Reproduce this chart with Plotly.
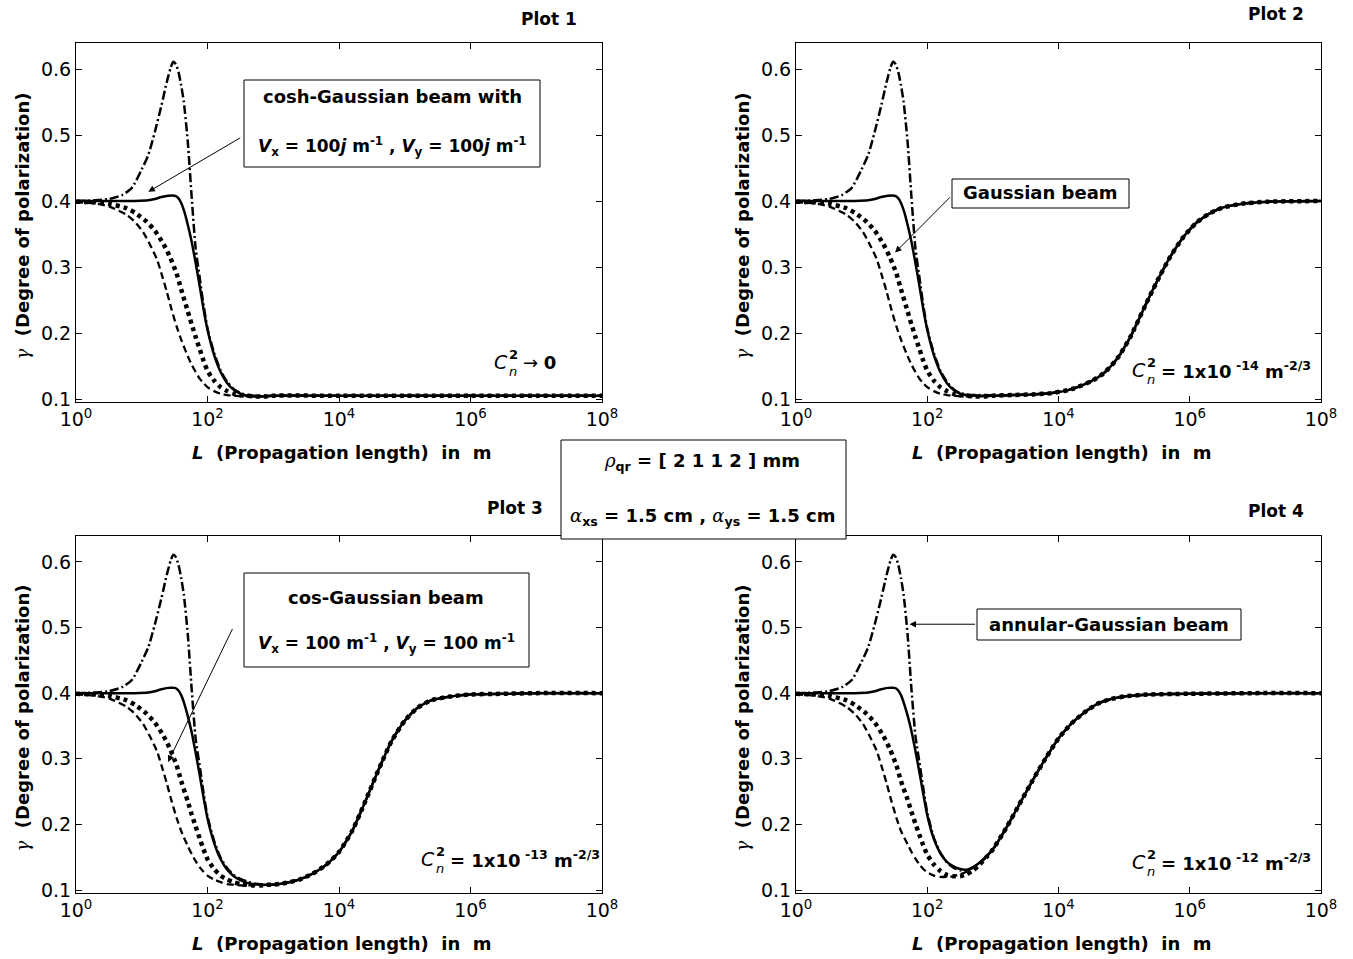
import plotly.graph_objects as go

# ---------------- data: x = log10(L in m), y = gamma (degree of polarization) ----------------
# early part (identical for all four panels)
DD_X_EARLY = [0, 0.3, 0.5, 0.7, 0.85, 1.0, 1.1, 1.2, 1.3, 1.38, 1.44, 1.48, 1.52, 1.56, 1.6, 1.64]
DD_Y_EARLY = [0.400, 0.401, 0.403, 0.409, 0.420, 0.448, 0.470, 0.505, 0.545, 0.580, 0.602, 0.611, 0.607, 0.595, 0.575, 0.550]
S_X_EARLY = [0, 0.5, 0.9, 1.1, 1.2, 1.3, 1.4, 1.5, 1.55, 1.6, 1.65]
S_Y_EARLY = [0.400, 0.400, 0.400, 0.401, 0.403, 0.406, 0.408, 0.408, 0.405, 0.397, 0.383]
D_X_EARLY = [0, 0.3, 0.5, 0.77, 0.9, 1.07, 1.2, 1.33, 1.43, 1.53, 1.6]
D_Y_EARLY = [0.399, 0.398, 0.396, 0.389, 0.382, 0.369, 0.355, 0.335, 0.315, 0.290, 0.266]
DA_X_EARLY = [0, 0.3, 0.5, 0.77, 0.9, 1.02, 1.12, 1.23, 1.3, 1.38, 1.45, 1.53, 1.6]
DA_Y_EARLY = [0.398, 0.396, 0.392, 0.379, 0.368, 0.353, 0.335, 0.312, 0.290, 0.263, 0.237, 0.210, 0.190]

# middle part (per panel)
MID_X = [1.7, 1.76, 1.82, 1.88, 1.94, 2.0, 2.1, 2.2, 2.3, 2.4, 2.5, 2.6, 2.7, 2.8, 2.9]
P1_MID_DD = [0.490, 0.405, 0.328, 0.285, 0.242, 0.207, 0.170, 0.143, 0.126, 0.115, 0.109, 0.106, 0.105, 0.105, 0.105]
P1_MID_S = [0.364, 0.338, 0.306, 0.272, 0.236, 0.205, 0.167, 0.141, 0.124, 0.114, 0.108, 0.105, 0.104, 0.104, 0.104]
P1_MID_D = [0.233, 0.213, 0.194, 0.176, 0.158, 0.143, 0.128, 0.118, 0.112, 0.108, 0.106, 0.105, 0.104, 0.104, 0.104]
P1_MID_DA = [0.165, 0.152, 0.141, 0.131, 0.124, 0.118, 0.112, 0.108, 0.106, 0.105, 0.104, 0.104, 0.104, 0.104, 0.104]

P2_MID_DD = [0.490, 0.405, 0.328, 0.285, 0.242, 0.207, 0.170, 0.143, 0.126, 0.115, 0.109, 0.107, 0.106, 0.106, 0.106]
P2_MID_S = [0.364, 0.338, 0.306, 0.272, 0.236, 0.205, 0.167, 0.141, 0.124, 0.114, 0.108, 0.106, 0.105, 0.105, 0.105]
P2_MID_D = [0.233, 0.213, 0.194, 0.176, 0.158, 0.143, 0.128, 0.118, 0.112, 0.108, 0.106, 0.105, 0.104, 0.104, 0.104]
P2_MID_DA = [0.165, 0.152, 0.141, 0.131, 0.124, 0.118, 0.112, 0.108, 0.106, 0.105, 0.104, 0.104, 0.104, 0.104, 0.104]

P3_MID_DD = [0.490, 0.405, 0.330, 0.290, 0.248, 0.212, 0.175, 0.149, 0.133, 0.123, 0.117, 0.113, 0.110, 0.109, 0.108]
P3_MID_S = [0.365, 0.340, 0.309, 0.276, 0.241, 0.209, 0.172, 0.147, 0.131, 0.121, 0.115, 0.111, 0.109, 0.108, 0.108]
P3_MID_D = [0.235, 0.215, 0.197, 0.179, 0.162, 0.147, 0.132, 0.122, 0.116, 0.112, 0.109, 0.108, 0.107, 0.107, 0.108]
P3_MID_DA = [0.167, 0.155, 0.144, 0.135, 0.128, 0.122, 0.116, 0.112, 0.109, 0.108, 0.107, 0.107, 0.107, 0.107, 0.108]

P4_MID_DD = [0.490, 0.405, 0.335, 0.295, 0.255, 0.218, 0.180, 0.157, 0.142, 0.134, 0.130, 0.130, 0.135, 0.142, 0.151]
P4_MID_S = [0.366, 0.342, 0.312, 0.280, 0.246, 0.214, 0.178, 0.156, 0.143, 0.136, 0.132, 0.131, 0.135, 0.142, 0.151]
P4_MID_D = [0.238, 0.219, 0.201, 0.184, 0.168, 0.154, 0.139, 0.129, 0.123, 0.121, 0.121, 0.124, 0.130, 0.139, 0.150]
P4_MID_DA = [0.170, 0.158, 0.148, 0.139, 0.132, 0.127, 0.122, 0.120, 0.120, 0.121, 0.124, 0.128, 0.134, 0.141, 0.150]

# tails (curves coincide)
TAIL1_X = [3.0, 4.0, 5.0, 6.0, 7.0, 8.0]
TAIL1_Y = [0.105, 0.105, 0.105, 0.105, 0.105, 0.105]
TAIL2_X = [3.0, 3.3, 3.6, 3.9, 4.2, 4.5, 4.7, 4.9, 5.1, 5.3, 5.5, 5.7, 5.9, 6.1, 6.3, 6.5, 6.8, 7.2, 8.0]
TAIL2_Y = [0.105, 0.106, 0.107, 0.109, 0.115, 0.127, 0.140, 0.162, 0.195, 0.237, 0.278, 0.315, 0.345, 0.367, 0.381, 0.390, 0.396, 0.399, 0.400]
TAIL3_X = [3.0, 3.2, 3.4, 3.6, 3.8, 4.0, 4.2, 4.4, 4.6, 4.8, 5.0, 5.2, 5.4, 5.7, 6.0, 6.5, 7.0, 8.0]
TAIL3_Y = [0.108, 0.111, 0.116, 0.125, 0.138, 0.158, 0.190, 0.235, 0.283, 0.327, 0.358, 0.378, 0.389, 0.395, 0.398, 0.399, 0.400, 0.400]
TAIL4_X = [3.0, 3.2, 3.4, 3.6, 3.8, 4.0, 4.2, 4.4, 4.6, 4.8, 5.0, 5.4, 6.0, 7.0, 8.0]
TAIL4_Y = [0.162, 0.194, 0.230, 0.266, 0.300, 0.331, 0.354, 0.371, 0.384, 0.391, 0.395, 0.398, 0.399, 0.400, 0.400]

X_TICKS = [1, 1e2, 1e4, 1e6, 1e8]
X_TICKTEXT = ["10<sup>0</sup>", "10<sup>2</sup>", "10<sup>4</sup>", "10<sup>6</sup>", "10<sup>8</sup>"]
Y_TICKS = [0.1, 0.2, 0.3, 0.4, 0.5, 0.6]
Y_TICKTEXT = ["0.1", "0.2", "0.3", "0.4", "0.5", "0.6"]

# ---------------- figure ----------------
W, H = 1353, 959
FONT = "DejaVu Sans"
SERIF_IT = "font-family:'DejaVu Serif';font-style:italic;font-weight:normal"


def px(x):
    return x / W


def py(y):
    return 1 - y / H


EARLY = {"DD": (DD_X_EARLY, DD_Y_EARLY), "S": (S_X_EARLY, S_Y_EARLY),
         "D": (D_X_EARLY, D_Y_EARLY), "DA": (DA_X_EARLY, DA_Y_EARLY)}
MIDS = {
    1: {"DD": P1_MID_DD, "S": P1_MID_S, "D": P1_MID_D, "DA": P1_MID_DA},
    2: {"DD": P2_MID_DD, "S": P2_MID_S, "D": P2_MID_D, "DA": P2_MID_DA},
    3: {"DD": P3_MID_DD, "S": P3_MID_S, "D": P3_MID_D, "DA": P3_MID_DA},
    4: {"DD": P4_MID_DD, "S": P4_MID_S, "D": P4_MID_D, "DA": P4_MID_DA},
}
TAILS = {1: (TAIL1_X, TAIL1_Y), 2: (TAIL2_X, TAIL2_Y), 3: (TAIL3_X, TAIL3_Y), 4: (TAIL4_X, TAIL4_Y)}

STYLES = {
    "D": dict(color="black", width=4.5, dash="4px,4px"),
    "DA": dict(color="black", width=2.3, dash="7px,4px"),
    "S": dict(color="black", width=2.5),
    "DD": dict(color="black", width=2.5, dash="9px,3px,2px,3px"),
}

fig = go.Figure()
for p in (1, 2, 3, 4):
    xa = "x" if p == 1 else f"x{p}"
    ya = "y" if p == 1 else f"y{p}"
    tx, ty = TAILS[p]
    for key in ("D", "DA", "S", "DD"):
        ex, ey = EARLY[key]
        lx = list(ex) + MID_X + tx
        ly = list(ey) + MIDS[p][key] + ty
        fig.add_trace(go.Scatter(
            x=[10 ** v for v in lx], y=ly, mode="lines",
            line=dict(shape="spline", smoothing=0.6, **STYLES[key]),
            xaxis=xa, yaxis=ya, showlegend=False, hoverinfo="skip"))

# panel geometry in pixels (left, right, top, bottom)
PANELS = {1: (76, 602, 43, 402), 2: (796, 1321, 43, 402),
          3: (76, 602, 536, 893), 4: (796, 1321, 536, 893)}

layout = dict(width=W, height=H, autosize=False, margin=dict(l=0, r=0, t=0, b=0, autoexpand=False),
              template="none",
              paper_bgcolor="white", plot_bgcolor="white",
              font=dict(family=FONT, color="black", size=18), showlegend=False)

for p, (l, r, t, b) in PANELS.items():
    xk = "xaxis" if p == 1 else f"xaxis{p}"
    yk = "yaxis" if p == 1 else f"yaxis{p}"
    ya = "y" if p == 1 else f"y{p}"
    xa = "x" if p == 1 else f"x{p}"
    layout[xk] = dict(type="log", range=[0, 8], domain=[px(l), px(r)], anchor=ya,
                      automargin=False,
                      showline=True, linecolor="black", linewidth=1, mirror="ticks",
                      ticks="inside", ticklen=6, tickcolor="black", tickwidth=1,
                      tickvals=X_TICKS, ticktext=X_TICKTEXT, showgrid=False, zeroline=False,
                      tickfont=dict(family=FONT, size=19, color="black"))
    layout[yk] = dict(range=[0.0955, 0.6394], domain=[py(b), py(t)], anchor=xa,
                      automargin=False,
                      showline=True, linecolor="black", linewidth=1, mirror="ticks",
                      ticks="inside", ticklen=6, tickcolor="black", tickwidth=1,
                      tickvals=Y_TICKS, ticktext=Y_TICKTEXT, showgrid=False, zeroline=False,
                      tickfont=dict(family=FONT, size=19, color="black"))
fig.update_layout(**layout)

ann = []


def text(t, x, y, size=18, xanchor="center", yanchor="middle", angle=0):
    ann.append(dict(text=t, x=px(x), y=py(y), xref="paper", yref="paper", showarrow=False,
                    xanchor=xanchor, yanchor=yanchor, textangle=angle,
                    font=dict(family=FONT, size=size, color="black")))


# panel titles
text("<b>Plot 1</b>", 549, 19, 17)
text("<b>Plot 2</b>", 1276, 14, 17)
text("<b>Plot 3</b>", 515, 508, 17)
text("<b>Plot 4</b>", 1276, 511, 17)

# axis titles
XT = "<b><i>L</i>  (Propagation length)  in  m</b>"
YT = f"<span style=\"{SERIF_IT}\">γ</span><b>  (Degree of polarization)</b>"
for p, (l, r, t, b) in PANELS.items():
    text(XT, (l + r) / 2 + 3, b + 50, 18)
    text(YT, l - 54, (t + b) / 2 + 4, 18, angle=-90)

# boxes
BOXES = [(244, 540, 80, 167), (952, 1129, 179, 208), (244, 529, 573, 667),
         (977, 1241, 609, 640), (561, 846, 440, 539)]
shapes = []
for (l, r, t, b) in BOXES:
    shapes.append(dict(type="rect", xref="paper", yref="paper", x0=px(l), x1=px(r),
                       y0=py(b), y1=py(t), line=dict(color="black", width=1),
                       fillcolor="white", layer="above"))
fig.update_layout(shapes=shapes)

text("<b>cosh-Gaussian beam with</b>", 392, 97, 18)
text("<b><i>V</i><sub>x</sub> = 100<i>j</i> m<sup>-1</sup> , <i>V</i><sub>y</sub> = 100<i>j</i> m<sup>-1</sup></b>",
     392, 146, 17)
text("<b>Gaussian beam</b>", 1040, 193, 18)
text("<b>cos-Gaussian beam</b>", 386, 597, 18)
text("<b><i>V</i><sub>x</sub> = 100 m<sup>-1</sup> , <i>V</i><sub>y</sub> = 100 m<sup>-1</sup></b>",
     386, 643, 17)
text("<b>annular-Gaussian beam</b>", 1109, 624, 18)
text(f"<span style=\"{SERIF_IT}\">ρ</span><b><sub>qr</sub> = [ 2 1 1 2 ] mm</b>", 702, 462, 18)
text(f"<span style=\"{SERIF_IT}\">α</span><b><sub>xs</sub> = 1.5 cm , </b>"
     f"<span style=\"{SERIF_IT}\">α</span><b><sub>ys</sub> = 1.5 cm</b>", 703, 517, 18)


def cn2(x0, yc, rest):
    text("<i>C</i>", x0, yc, 19, xanchor="left")
    text("<b>2</b>", x0 + 15, yc - 8, 13, xanchor="left")
    text("<i>n</i>", x0 + 15, yc + 9, 13, xanchor="left")
    text(rest, x0 + 29, yc, 18, xanchor="left")


cn2(492, 362, "→ <b>0</b>")
cn2(1130, 370, "<b>= 1x10<sup> -14</sup> m<sup>-2/3</sup></b>")
cn2(419, 859, "<b>= 1x10<sup> -13</sup> m<sup>-2/3</sup></b>")
cn2(1130, 862, "<b>= 1x10<sup> -12</sup> m<sup>-2/3</sup></b>")

# arrows (axis coordinates: log10 L, gamma)
ARROWS = [(1, 1.10, 0.414, 2.52, 0.497), (2, 1.51, 0.322, 2.37, 0.408),
          (3, 1.40, 0.295, 2.39, 0.500), (4, 1.73, 0.505, 2.75, 0.505)]
for p, xh, yh, xt, yt in ARROWS:
    xa = "x" if p == 1 else f"x{p}"
    ya = "y" if p == 1 else f"y{p}"
    ann.append(dict(text="", x=xh, y=yh, xref=xa, yref=ya, axref=xa, ayref=ya,
                    ax=xt, ay=yt, showarrow=True, arrowhead=2, arrowsize=1.3,
                    arrowwidth=1, arrowcolor="black", standoff=0))

fig.update_layout(annotations=ann)
fig.write_html("out.html")
